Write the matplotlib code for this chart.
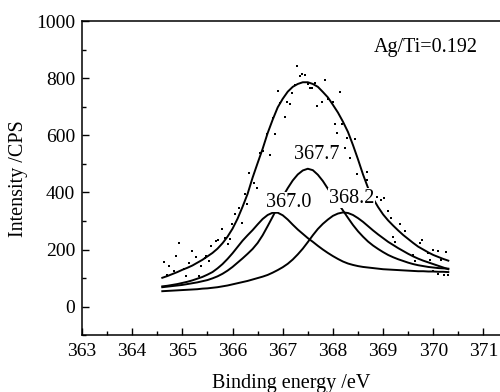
import matplotlib
matplotlib.use("Agg")
import matplotlib.pyplot as plt
from matplotlib.ticker import MultipleLocator

plt.rcParams['font.family'] = ['Liberation Serif', 'DejaVu Serif']

# measured points (binding energy eV, counts)
pts_x = [364.63, 364.69, 364.74, 364.84, 364.88, 364.94, 365.04, 365.08, 365.14, 365.19,
         365.28, 365.34, 365.38, 365.45, 365.48, 365.53, 365.58, 365.67, 365.72, 365.78,
         365.85, 365.90, 365.95, 365.98, 366.05, 366.13, 366.18, 366.25, 366.29, 366.33,
         366.43, 366.49, 366.55, 366.61, 366.69, 366.75, 366.80, 366.84, 366.90, 366.94,
         367.04, 367.08, 367.14, 367.19, 367.24, 367.29, 367.34, 367.38, 367.44, 367.50,
         367.54, 367.59, 367.64, 367.69, 367.79, 367.84, 367.91, 368.00, 368.04, 368.09,
         368.14, 368.19, 368.24, 368.29, 368.34, 368.44, 368.49, 368.67, 368.68, 368.70,
         368.75, 368.88, 368.96, 369.02, 369.10, 369.15, 369.19, 369.24, 369.33, 369.43,
         369.59, 369.63, 369.73, 369.78, 369.90, 369.93, 370.00, 370.10, 370.15, 370.25,
         370.00, 370.10, 370.21, 370.30]
pts_y = [155, 112, 144, 126, 179, 223, 132, 109, 153, 196,
         174, 109, 141, 171, 176, 159, 214, 231, 235, 272,
         241, 221, 237, 291, 323, 346, 294, 396, 360, 469,
         434, 416, 539, 545, 604, 531, 662, 604, 756, 715,
         666, 717, 709, 750, 775, 843, 808, 814, 811, 779,
         767, 767, 785, 703, 717, 794, 726, 717, 639, 609,
         752, 639, 557, 592, 522, 586, 463, 445, 471, 399,
         360, 385, 372, 380, 334, 311, 243, 227, 288, 266,
         182, 161, 223, 234, 188, 163, 198, 194, 163, 190,
         124, 116, 112, 110]

fit_x = [364.6, 364.7, 364.8, 364.9, 365.0, 365.1, 365.2, 365.3, 365.4, 365.5,
         365.6, 365.7, 365.8, 365.9, 366.0, 366.1, 366.2, 366.3, 366.4, 366.5,
         366.6, 366.7, 366.8, 366.9, 367.0, 367.1, 367.2, 367.3, 367.4, 367.5,
         367.6, 367.7, 367.8, 367.9, 368.0, 368.1, 368.2, 368.3, 368.4, 368.5,
         368.6, 368.7, 368.8, 368.9, 369.0, 369.1, 369.2, 369.3, 369.4, 369.5,
         369.6, 369.7, 369.8, 369.9, 370.0, 370.1, 370.2, 370.3]
envelope = [101, 107, 114, 121, 129, 136, 144, 154, 164, 176,
            188, 203, 222, 245, 273, 308, 350, 395, 452, 503,
            553, 608, 655, 698, 728, 753, 770, 780, 786, 786,
            780, 770, 752, 733, 707, 680, 648, 612, 566, 516,
            463, 416, 379, 349, 323, 302, 284, 267, 251, 237,
            223, 210, 200, 190, 181, 174, 167, 161]
peak_367_0 = [71, 73, 76, 79, 83, 87, 92, 98, 104, 112,
              121, 134, 149, 167, 187, 209, 231, 250, 268, 288,
              307, 321, 329, 329, 320, 305, 287, 270, 255, 240,
              227, 213, 200, 188, 177, 167, 158, 151, 146, 142,
              139, 137, 135, 133, 131, 130, 129, 128, 127, 126,
              125, 124, 124, 123, 123, 122, 122, 121]
peak_367_7 = [68, 70, 72, 74, 76, 79, 82, 85, 89, 93,
              99, 106, 115, 126, 139, 154, 169, 185, 202, 223,
              250, 282, 315, 350, 385, 415, 442, 463, 477, 483,
              478, 462, 440, 413, 387, 362, 337, 311, 286, 264,
              245, 228, 214, 202, 191, 181, 173, 166, 160, 154,
              149, 145, 142, 139, 137, 135, 134, 133]
peak_368_2 = [54, 55, 56, 57, 58, 59, 60, 61, 63, 64,
              66, 68, 71, 74, 78, 82, 86, 90, 95, 100,
              105, 111, 119, 128, 138, 150, 165, 183, 203, 226,
              250, 272, 290, 305, 318, 326, 330, 328, 321, 310,
              297, 282, 267, 253, 240, 227, 216, 205, 195, 185,
              176, 168, 161, 155, 149, 143, 137, 131]

fig = plt.figure(figsize=(5.0, 3.92), dpi=100)
ax = fig.add_axes([0.164, 0.145, 0.836, 0.801])

ax.plot(pts_x, pts_y, 's', color='black', markersize=1.8, markeredgewidth=0)
for curve in (envelope, peak_367_0, peak_367_7, peak_368_2):
    ax.plot(fit_x, curve, color='black', lw=1.4)

box = dict(facecolor='white', edgecolor='none', pad=0.5)
ax.text(367.68, 533, '367.7', fontsize=14.5, ha='center', va='center', bbox=box, zorder=5)
ax.text(367.12, 366, '367.0', fontsize=14.5, ha='center', va='center', bbox=box, zorder=5)
ax.text(368.37, 380, '368.2', fontsize=14.5, ha='center', va='center', bbox=box, zorder=5)
ax.text(368.82, 909, 'Ag/Ti=0.192', fontsize=14.5, ha='left', va='center')

ax.set_xlim(363, 371.33)
ax.set_ylim(-100, 1000)
ax.xaxis.set_major_locator(MultipleLocator(1))
ax.xaxis.set_minor_locator(MultipleLocator(0.5))
ax.yaxis.set_major_locator(MultipleLocator(200))
ax.yaxis.set_minor_locator(MultipleLocator(100))
ax.tick_params(which='both', direction='in', labelsize=14, width=1)
ax.tick_params(which='major', length=5)
ax.tick_params(which='minor', length=3)
ax.tick_params(axis='x', pad=6)
ax.tick_params(axis='y', pad=5)
ax.spines['right'].set_visible(False)
for s in ('left', 'bottom', 'top'):
    ax.spines[s].set_linewidth(1.1)

ax.set_xlabel('Binding energy /eV', fontsize=14.5, labelpad=10)
ax.set_ylabel('Intensity /CPS', fontsize=14.5, labelpad=6)

fig.savefig('out.png', dpi=100)
